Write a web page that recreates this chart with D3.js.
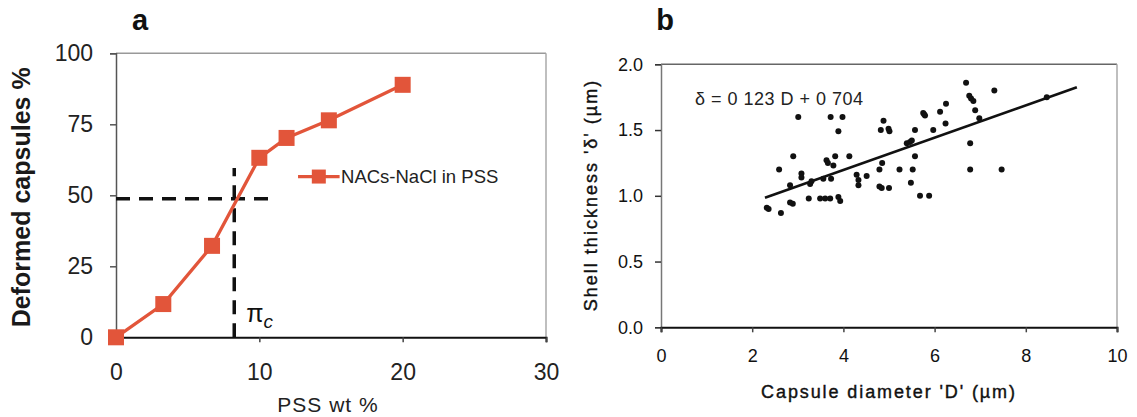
<!DOCTYPE html>
<html>
<head>
<meta charset="utf-8">
<script src="https://cdn.jsdelivr.net/npm/d3@7/dist/d3.min.js"></script>
<style>
  body { margin: 0; background: #fff; }
  svg { display: block; font-family: "Liberation Sans", Arial, sans-serif; }
</style>
</head>
<body>
<div id="chart"></div>
<script>
// ---- panel a data: deformed capsules vs PSS concentration
const pssWt = [0, 3.3, 6.7, 10, 11.9, 14.85, 20];
const deformed = [0, 11.7, 32.2, 63.2, 70.2, 76.4, 88.9];
const piC = 8.25;          // critical osmotic pressure marker
const halfLevel = 48.8;    // 50% guide line
const seriesName = "NACs-NaCl in PSS";
const aXTicks = [0, 10, 20, 30];
const aYTicks = [0, 25, 50, 75, 100];

// ---- panel b data: shell thickness vs capsule diameter
const diameter = [2.32, 2.36, 2.59, 2.63, 2.83, 2.83, 2.89, 2.90, 3.01, 3.08, 3.08, 3.24, 3.27, 3.30,
  3.49, 3.56, 3.60, 3.63, 3.66, 3.71, 3.72, 3.73, 3.78, 3.82, 3.89, 3.89, 3.93, 3.98, 4.13, 4.29,
  4.33, 4.33, 4.51, 4.79, 4.79, 4.84, 4.82, 4.85, 4.88, 4.99, 5.01, 5.00, 5.23, 5.39, 5.46, 5.50,
  5.48, 5.52, 5.57, 5.57, 5.68, 5.75, 5.79, 5.77, 5.88, 5.97, 6.12, 6.25, 6.24, 6.69, 6.76, 6.80,
  6.85, 6.78, 6.78, 6.89, 6.98, 7.31, 7.47, 8.46];
const thickness = [0.91, 0.90, 1.20, 0.87, 1.08, 0.95, 0.94, 1.30, 1.60, 1.17, 1.14, 0.98, 1.09, 1.11,
  0.98, 1.13, 0.98, 1.27, 1.25, 0.98, 1.60, 1.13, 1.23, 1.30, 1.49, 0.99, 0.96, 1.60, 1.30, 1.16,
  1.12, 1.08, 1.15, 1.20, 1.07, 1.06, 1.50, 1.25, 1.57, 1.51, 1.49, 1.06, 1.20, 1.40, 1.41, 1.42,
  1.10, 1.20, 1.50, 1.30, 1.00, 1.63, 1.61, 1.62, 1.00, 1.50, 1.64, 1.70, 1.55, 1.86, 1.76, 1.74,
  1.72, 1.40, 1.20, 1.65, 1.59, 1.80, 1.20, 1.75];
const slope = 0.123, intercept = 0.704;
const fitRange = [2.28, 9.12];
const equationText = "δ = 0 123 D + 0 704";
const bXTicks = [0, 2, 4, 6, 8, 10];
const bYTicks = [0, 0.5, 1.0, 1.5, 2.0];

const W = 1137, H = 417;
const svg = d3.select("#chart").append("svg").attr("width", W).attr("height", H);
svg.append("rect").attr("width", W).attr("height", H).attr("fill", "#fff");

const red = "#e2553a";

// ================= panel a =================
const ax = d3.scaleLinear().domain([0, 30]).range([116, 546]);
const ay = d3.scaleLinear().domain([0, 100]).range([337.3, 53.3]);
const ga = svg.append("g");

// frame (top / right are lighter)
ga.append("line").attr("x1", ax(0)).attr("x2", ax(30)).attr("y1", ay(100)).attr("y2", ay(100))
  .attr("stroke", "#999").attr("stroke-width", 1.5);
ga.append("line").attr("x1", ax(30)).attr("x2", ax(30)).attr("y1", ay(100)).attr("y2", ay(0))
  .attr("stroke", "#aaa").attr("stroke-width", 1.5);

const aLeft = ga.append("g").attr("transform", `translate(${ax(0)},0)`)
  .call(d3.axisLeft(ay).tickValues(aYTicks).tickSize(6).tickPadding(17));
aLeft.select(".domain").attr("stroke", "#555").attr("stroke-width", 1.5);
aLeft.selectAll(".tick line").attr("stroke", "#555").attr("stroke-width", 1.5);
aLeft.selectAll(".tick text").attr("font-size", 23).attr("fill", "#222").attr("font-family", null);

const aBottom = ga.append("g").attr("transform", `translate(0,${ay(0)})`)
  .call(d3.axisBottom(ax).tickValues(aXTicks).tickSize(5).tickPadding(21));
aBottom.select(".domain").attr("stroke", "#111").attr("stroke-width", 2);
aBottom.selectAll(".tick line").attr("stroke", "#444").attr("stroke-width", 1.5);
aBottom.selectAll(".tick text").attr("font-size", 23).attr("fill", "#222").attr("font-family", null);

// guide lines
ga.append("line").attr("x1", ax(0)).attr("x2", ax(11.1)).attr("y1", ay(halfLevel)).attr("y2", ay(halfLevel))
  .attr("stroke", "#111").attr("stroke-width", 3.5).attr("stroke-dasharray", "14,9");
ga.append("line").attr("x1", ax(piC)).attr("x2", ax(piC)).attr("y1", ay(0)).attr("y2", ay(59.6))
  .attr("stroke", "#111").attr("stroke-width", 3.5).attr("stroke-dasharray", "14,9");

// series
const aPts = pssWt.map((x, i) => [x, deformed[i]]);
ga.append("path").datum(aPts)
  .attr("d", d3.line().x(d => ax(d[0])).y(d => ay(d[1])))
  .attr("fill", "none").attr("stroke", red).attr("stroke-width", 3.3);
const ms = 16;
ga.selectAll("rect.mk").data(aPts).enter().append("rect").attr("class", "mk")
  .attr("x", d => ax(d[0]) - ms / 2).attr("y", d => ay(d[1]) - ms / 2)
  .attr("width", ms).attr("height", ms).attr("fill", red);

// legend
const lgY = ay(56.6);
ga.append("line").attr("x1", ax(12.7)).attr("x2", ax(15.6)).attr("y1", lgY).attr("y2", lgY)
  .attr("stroke", red).attr("stroke-width", 3.3);
ga.append("rect").attr("x", ax(14.15) - 7).attr("y", lgY - 7).attr("width", 14).attr("height", 14).attr("fill", red);
ga.append("text").attr("x", ax(15.7)).attr("y", lgY).attr("dy", "0.35em")
  .attr("font-size", 18.5).attr("fill", "#222").text(seriesName);

// pi_c label
const pl = ga.append("text").attr("x", ax(piC) + 12).attr("y", ay(5.5)).attr("font-size", 25).attr("fill", "#111");
pl.append("tspan").text("π");
pl.append("tspan").attr("dy", 6).attr("font-size", 19).attr("font-style", "italic").text("c");

// titles
ga.append("text").attr("transform", `translate(30,${(ay(0) + ay(100)) / 2 + 2}) rotate(-90)`)
  .attr("text-anchor", "middle").attr("font-size", 25).attr("font-weight", "bold").attr("fill", "#1a1a1a")
  .text("Deformed capsules %");
ga.append("text").attr("x", 328).attr("y", 412).attr("text-anchor", "middle")
  .attr("font-size", 21).attr("letter-spacing", 1).attr("fill", "#222").text("PSS wt %");
ga.append("text").attr("x", 140).attr("y", 30).attr("text-anchor", "middle")
  .attr("font-size", 29).attr("font-weight", "bold").attr("fill", "#111").text("a");

// ================= panel b =================
const bx = d3.scaleLinear().domain([0, 10]).range([661, 1117]);
const by = d3.scaleLinear().domain([0, 2]).range([327.3, 64.3]);
const gb = svg.append("g");

gb.append("line").attr("x1", bx(0)).attr("x2", bx(10)).attr("y1", by(2)).attr("y2", by(2))
  .attr("stroke", "#666").attr("stroke-width", 1.5);
gb.append("line").attr("x1", bx(10)).attr("x2", bx(10)).attr("y1", by(2)).attr("y2", by(0))
  .attr("stroke", "#aaa").attr("stroke-width", 1.5);

const bLeft = gb.append("g").attr("transform", `translate(${bx(0)},0)`)
  .call(d3.axisLeft(by).tickValues(bYTicks).tickFormat(d3.format(".1f")).tickSize(6).tickPadding(12));
bLeft.select(".domain").attr("stroke", "#777").attr("stroke-width", 1.5);
bLeft.selectAll(".tick line").attr("stroke", "#333").attr("stroke-width", 1.5);
bLeft.selectAll(".tick text").attr("font-size", 18).attr("fill", "#111").attr("font-family", null);

const bBottom = gb.append("g").attr("transform", `translate(0,${by(0)})`)
  .call(d3.axisBottom(bx).tickValues(bXTicks).tickSize(5).tickPadding(17));
bBottom.select(".domain").attr("stroke", "#111").attr("stroke-width", 2);
bBottom.selectAll(".tick line").attr("stroke", "#444").attr("stroke-width", 1.5);
bBottom.selectAll(".tick text").attr("font-size", 18).attr("fill", "#111").attr("font-family", null);

// fitted line
gb.append("line")
  .attr("x1", bx(fitRange[0])).attr("y1", by(slope * fitRange[0] + intercept))
  .attr("x2", bx(fitRange[1])).attr("y2", by(slope * fitRange[1] + intercept))
  .attr("stroke", "#111").attr("stroke-width", 2.6);

// points
gb.selectAll("circle").data(diameter.map((d, i) => [d, thickness[i]])).enter().append("circle")
  .attr("cx", d => bx(d[0])).attr("cy", d => by(d[1])).attr("r", 3).attr("fill", "#111");

gb.append("text").attr("x", 695).attr("y", 98.5).attr("dy", "0.35em")
  .attr("font-size", 18).attr("letter-spacing", 0.5).attr("fill", "#222").text(equationText);

gb.append("text").attr("transform", `translate(591,195) rotate(-90)`)
  .attr("text-anchor", "middle").attr("dy", "0.35em").attr("font-size", 18).attr("letter-spacing", 2)
  .attr("fill", "#111").attr("stroke", "#111").attr("stroke-width", 0.4)
  .text("Shell thickness 'δ' (µm)");
gb.append("text").attr("x", 889).attr("y", 392).attr("dy", "0.35em").attr("text-anchor", "middle")
  .attr("font-size", 18).attr("letter-spacing", 1.9).attr("fill", "#111").attr("stroke", "#111").attr("stroke-width", 0.4)
  .text("Capsule diameter 'D' (µm)");
gb.append("text").attr("x", 665).attr("y", 30).attr("text-anchor", "middle")
  .attr("font-size", 29).attr("font-weight", "bold").attr("fill", "#111").text("b");
</script>
</body>
</html>
